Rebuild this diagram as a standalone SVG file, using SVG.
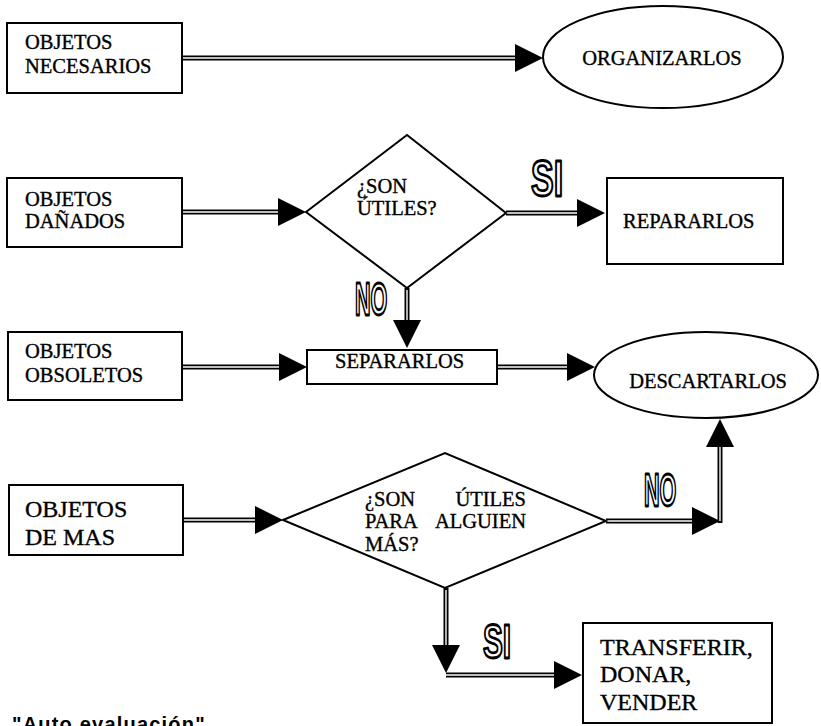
<svg xmlns="http://www.w3.org/2000/svg" width="821" height="726" viewBox="0 0 821 726">
  <style>
    .box { fill: #fff; stroke: #000; stroke-width: 2; }
    .t { font-family: "Liberation Serif", "Times New Roman", serif; font-size: 20.5px; fill: #000; stroke: #000; stroke-width: 0.35; }
    .tb { font-family: "Liberation Serif", "Times New Roman", serif; font-size: 24px; fill: #000; stroke: #000; stroke-width: 0.35; }
    .lbl { font-family: "Liberation Sans", Arial, sans-serif; font-weight: bold; fill: #fff; stroke: #000; stroke-width: 2.8; stroke-linejoin: round; }
    .outer { fill: none; stroke: #000; stroke-width: 5; stroke-linejoin: miter; }
    .inner { fill: none; stroke: #fff; stroke-width: 1.4; marker-end: url(#head); }
    .foot { font-family: "Liberation Sans", Arial, sans-serif; font-weight: bold; font-size: 20px; letter-spacing: 1.2px; fill: #000; }
  </style>
  <defs>
    <marker id="head" markerUnits="userSpaceOnUse" markerWidth="29" markerHeight="29" refX="1" refY="14" orient="auto" viewBox="0 0 29 29">
      <path d="M0,0 L28,14 L0,28 z" fill="#000" stroke="none"/>
    </marker>
  </defs>

  <rect width="821" height="726" fill="#fff"/>

  <!-- connectors: black double rule with a white core, arrowhead on the core -->
  <g id="connectors">
    <path class="outer" d="M182,58 H516"/>
    <path class="inner" d="M182,58 H516"/>

    <path class="outer" d="M182,212 H279"/>
    <path class="inner" d="M182,212 H279"/>

    <path class="outer" d="M506,213 H578"/>
    <path class="inner" d="M506,213 H578"/>

    <path class="outer" d="M407,288 V321"/>
    <path class="inner" d="M407,290 V321"/>

    <path class="outer" d="M182,367 H280"/>
    <path class="inner" d="M182,367 H280"/>

    <path class="outer" d="M497,367 H568"/>
    <path class="inner" d="M497,367 H568"/>

    <path class="outer" d="M183,520 H256"/>
    <path class="inner" d="M183,520 H256"/>

    <path class="outer" d="M606,521 H693"/>
    <path class="inner" d="M606,521 H693"/>

    <path class="outer" d="M720,523 V446"/>
    <path class="inner" d="M720,521 V446"/>

    <path class="outer" d="M446,588 V646"/>
    <path class="inner" d="M446,590 V646"/>

    <path class="outer" d="M446,675 H555"/>
    <path class="inner" d="M446,675 H555"/>
  </g>

  <!-- branch labels -->
  <g id="labels">
    <text class="lbl" font-size="50" transform="translate(531,196) scale(0.68,1)">SI</text>
    <text class="lbl" font-size="47" transform="translate(355,315) scale(0.46,1)">NO</text>
    <text class="lbl" font-size="47" transform="translate(644,506) scale(0.46,1)">NO</text>
    <text class="lbl" font-size="48" transform="translate(483,658) scale(0.62,1)">SI</text>
  </g>

  <g id="necesarios">
    <rect class="box" x="7" y="23" width="175" height="70"/>
    <text class="t" x="25" y="49">OBJETOS</text>
    <text class="t" x="25" y="73">NECESARIOS</text>
  </g>

  <g id="organizarlos">
    <ellipse class="box" cx="663" cy="57" rx="120" ry="51"/>
    <text class="t" x="662" y="65" text-anchor="middle">ORGANIZARLOS</text>
  </g>

  <g id="danados">
    <rect class="box" x="7" y="178" width="175" height="69"/>
    <text class="t" x="25" y="206">OBJETOS</text>
    <text class="t" x="25" y="228">DAÑADOS</text>
  </g>

  <g id="son-utiles">
    <polygon class="box" points="306,212 407,135 506,213 407,288"/>
    <text class="t" x="357" y="193">¿SON</text>
    <text class="t" x="357" y="215">ÚTILES?</text>
  </g>

  <g id="repararlos">
    <rect class="box" x="607" y="178" width="176" height="86"/>
    <text class="t" x="623" y="228">REPARARLOS</text>
  </g>

  <g id="obsoletos">
    <rect class="box" x="8" y="332" width="174" height="68"/>
    <text class="t" x="25" y="358">OBJETOS</text>
    <text class="t" x="25" y="382">OBSOLETOS</text>
  </g>

  <g id="separarlos">
    <rect class="box" x="307" y="350" width="190" height="34"/>
    <text class="t" x="335" y="368">SEPARARLOS</text>
  </g>

  <g id="descartarlos">
    <ellipse class="box" cx="706" cy="375" rx="112" ry="43"/>
    <text class="t" x="708" y="388" text-anchor="middle">DESCARTARLOS</text>
  </g>

  <g id="de-mas">
    <rect class="box" x="9" y="485" width="174" height="70"/>
    <text class="tb" x="25" y="517">OBJETOS</text>
    <text class="tb" x="25" y="545">DE MAS</text>
  </g>

  <g id="utiles-alguien">
    <polygon class="box" points="283,520 445,453 606,521 445,588"/>
    <text class="t" x="365" y="506">¿SON</text>
    <text class="t" x="526" y="506" text-anchor="end">ÚTILES</text>
    <text class="t" x="365" y="528">PARA</text>
    <text class="t" x="526" y="528" text-anchor="end">ALGUIEN</text>
    <text class="t" x="365" y="551">MÁS?</text>
  </g>

  <g id="transferir">
    <rect class="box" x="583" y="623" width="189" height="100"/>
    <text class="tb" x="600" y="655">TRANSFERIR,</text>
    <text class="tb" x="600" y="682">DONAR,</text>
    <text class="tb" x="600" y="710">VENDER</text>
  </g>

  <!-- caption running off the bottom edge of the page -->
  <text class="foot" x="12" y="731">"Auto evaluación"</text>
</svg>
